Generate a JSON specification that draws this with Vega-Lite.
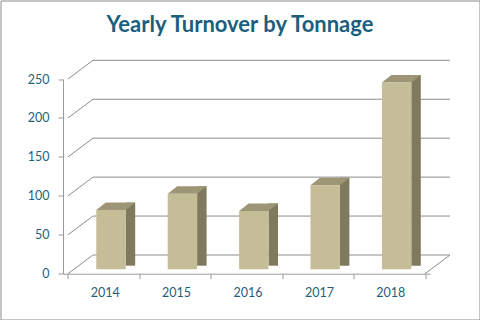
{
  "$schema": "https://vega.github.io/schema/vega-lite/v6.json",
  "width": 479,
  "height": 319,
  "autosize": {"type": "none"},
  "padding": {"left": 0.5, "top": 0.5, "right": 0, "bottom": 0},
  "background": "white",
  "config": {
    "view": {"stroke": "#8A8A8A", "strokeWidth": 1},
    "font": "Lato",
    "axisX": {
      "orient": "bottom", "offset": -45.8,
      "labelOffset": 36.7, "labelFlush": false, "labelOverlap": false,
      "tickSize": 5, "labelPadding": 8, "labelColor": "#1F5F7C", "labelFont": "Lato", "labelFontSize": 12.5,
      "domainColor": "#9A9A9A", "tickColor": "#9A9A9A", "grid": false
    },
    "axisY": {
      "orient": "left", "offset": -62.5,
      "tickSize": 5, "labelPadding": 9, "labelColor": "#1F5F7C", "labelFont": "Lato", "labelFontSize": 12.5,
      "domainColor": "#9A9A9A", "tickColor": "#9A9A9A", "grid": false
    }
  },
  "title": {
    "text": "Yearly Turnover by Tonnage",
    "font": "Lato",
    "fontSize": 22,
    "fontWeight": "bold",
    "color": "#1B5F7D",
    "anchor": "middle",
    "frame": "group",
    "baseline": "alphabetic",
    "offset": -53
  },
  "datasets": {
    "bars": [
      {"year": 2014, "value": 76},
      {"year": 2015, "value": 97},
      {"year": 2016, "value": 75},
      {"year": 2017, "value": 108},
      {"year": 2018, "value": 240}
    ],
    "grid": [
      {"tick": 0}, {"tick": 50}, {"tick": 100}, {"tick": 150}, {"tick": 200}, {"tick": 250}
    ]
  },
  "layer": [
    {
      "data": {"name": "grid"},
      "mark": {"type": "rule", "color": "#8C8C8C", "strokeWidth": 1, "xOffset": 25, "x2Offset": 25, "yOffset": -18.7},
      "encoding": {
        "x": {"datum": 2013.5, "type": "quantitative", "title": null, "scale": {"domain": [2013.5, 2018.5], "range": [62.5, 429.5], "nice": false, "zero": false},
              "axis": {"values": [2013.5, 2014.5, 2015.5, 2016.5, 2017.5, 2018.5], "labelExpr": "datum.value < 2018 ? format(datum.value + 0.5, 'd') : ''"}},
        "x2": {"datum": 2018.5},
        "y": {"field": "tick", "type": "quantitative", "title": null, "scale": {"domain": [0, 250], "range": [273.2, 78.5], "nice": false},
              "axis": {"values": [0, 50, 100, 150, 200, 250]}}
      }
    },
    {
      "data": {"name": "grid"},
      "mark": {"type": "rule", "color": "#8C8C8C", "strokeWidth": 1, "x2Offset": 25, "y2Offset": -18.7},
      "encoding": {
        "x": {"datum": 2013.5, "type": "quantitative", "title": null, "scale": {"domain": [2013.5, 2018.5], "range": [62.5, 429.5], "nice": false, "zero": false},
              "axis": {"values": [2013.5, 2014.5, 2015.5, 2016.5, 2017.5, 2018.5], "labelExpr": "datum.value < 2018 ? format(datum.value + 0.5, 'd') : ''"}},
        "x2": {"datum": 2013.5},
        "y": {"field": "tick", "type": "quantitative", "title": null, "scale": {"domain": [0, 250], "range": [273.2, 78.5], "nice": false},
              "axis": {"values": [0, 50, 100, 150, 200, 250]}},
        "y2": {"field": "tick"}
      }
    },
    {
      "data": {"values": [{}]},
      "mark": {"type": "rule", "color": "#8C8C8C", "strokeWidth": 1, "x2Offset": 25, "y2Offset": -18.7},
      "encoding": {
        "x": {"datum": 2018.5, "type": "quantitative", "title": null, "scale": {"domain": [2013.5, 2018.5], "range": [62.5, 429.5], "nice": false, "zero": false},
              "axis": {"values": [2013.5, 2014.5, 2015.5, 2016.5, 2017.5, 2018.5], "labelExpr": "datum.value < 2018 ? format(datum.value + 0.5, 'd') : ''"}},
        "x2": {"datum": 2018.5},
        "y": {"datum": 0, "type": "quantitative", "title": null, "scale": {"domain": [0, 250], "range": [273.2, 78.5], "nice": false},
              "axis": {"values": [0, 50, 100, 150, 200, 250]}},
        "y2": {"datum": 0}
      }
    },
    {
      "data": {"name": "bars"},
      "mark": {"type": "bar", "color": "#7F7A5E", "width": 9.5, "xOffset": 26.75, "yOffset": -11.9, "y2Offset": -8},
      "encoding": {
        "x": {"field": "year", "type": "quantitative", "title": null, "scale": {"domain": [2013.5, 2018.5], "range": [62.5, 429.5], "nice": false, "zero": false},
              "axis": {"values": [2013.5, 2014.5, 2015.5, 2016.5, 2017.5, 2018.5], "labelExpr": "datum.value < 2018 ? format(datum.value + 0.5, 'd') : ''"}},
        "y": {"field": "value", "type": "quantitative", "title": null, "scale": {"domain": [0, 250], "range": [273.2, 78.5], "nice": false},
              "axis": {"values": [0, 50, 100, 150, 200, 250]}},
        "y2": {"datum": 0}
      }
    },
    {
      "data": {"name": "bars"},
      "mark": {"type": "point", "shape": "M-0.735,0L0.735,0L1.21,-0.375L-0.26,-0.375Z", "size": 1600, "filled": true, "opacity": 1, "color": "#9C9676", "strokeWidth": 0, "xOffset": 7.3, "yOffset": -4.4},
      "encoding": {
        "x": {"field": "year", "type": "quantitative", "title": null, "scale": {"domain": [2013.5, 2018.5], "range": [62.5, 429.5], "nice": false, "zero": false},
              "axis": {"values": [2013.5, 2014.5, 2015.5, 2016.5, 2017.5, 2018.5], "labelExpr": "datum.value < 2018 ? format(datum.value + 0.5, 'd') : ''"}},
        "y": {"field": "value", "type": "quantitative", "title": null, "scale": {"domain": [0, 250], "range": [273.2, 78.5], "nice": false},
              "axis": {"values": [0, 50, 100, 150, 200, 250]}}
      }
    },
    {
      "data": {"name": "bars"},
      "mark": {"type": "bar", "color": "#C4BD97", "width": 29.4, "xOffset": 7.3, "yOffset": -4.4, "y2Offset": -4.4},
      "encoding": {
        "x": {"field": "year", "type": "quantitative", "title": null, "scale": {"domain": [2013.5, 2018.5], "range": [62.5, 429.5], "nice": false, "zero": false},
              "axis": {"values": [2013.5, 2014.5, 2015.5, 2016.5, 2017.5, 2018.5], "labelExpr": "datum.value < 2018 ? format(datum.value + 0.5, 'd') : ''"}},
        "y": {"field": "value", "type": "quantitative", "title": null, "scale": {"domain": [0, 250], "range": [273.2, 78.5], "nice": false},
              "axis": {"values": [0, 50, 100, 150, 200, 250]}},
        "y2": {"datum": 0}
      }
    }
  ]
}
